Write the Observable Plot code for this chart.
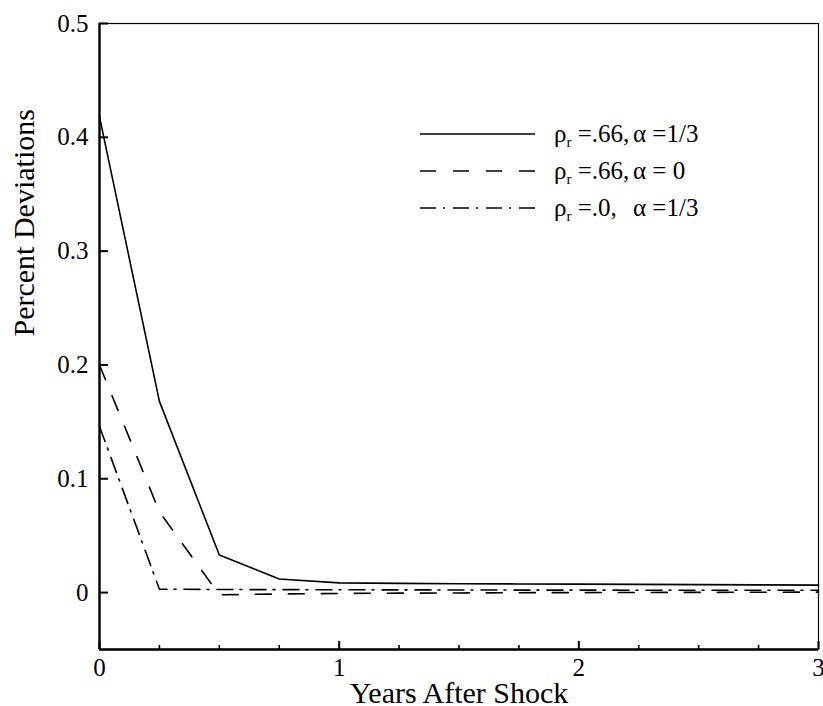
<!DOCTYPE html>
<html>
<head>
<meta charset="utf-8">
<script src="https://cdn.jsdelivr.net/npm/d3@7"></script>
<script src="https://cdn.jsdelivr.net/npm/@observablehq/plot@0.6"></script>
<style>
  body { margin: 0; background: #fff; }
  #wrap { position: relative; width: 823px; height: 706px; }
  #wrap svg text { font-family: "Liberation Serif", serif; }
  #legend { position: absolute; left: 420px; top: 115px; font-family: "Liberation Serif", serif; font-size: 25px; color: #000; }
  .row { display: flex; align-items: center; height: 37px; white-space: nowrap; }
  .row svg { display: block; margin-right: 19px; }
  .p1 { display: inline-block; width: 79px; }
  sub { font-size: 60%; vertical-align: -0.3em; line-height: 0; }
</style>
</head>
<body>
<div id="wrap"><div id="legend"></div></div>
<script>
// ---- data ----
const years = [0, 0.25, 0.5, 0.75, 1, 1.25, 1.5, 1.75, 2, 2.25, 2.5, 2.75, 3];
const solidSeries = [0.418, 0.168, 0.033, 0.012, 0.0085, 0.0081, 0.0078, 0.0076, 0.0074, 0.0072, 0.007, 0.0068, 0.0066];
const dashedSeries = [0.2, 0.071, -0.002, -0.0012, -0.0008, -0.0005, -0.0003, -0.0001, 0, 0.0001, 0.0002, 0.0003, 0.0004];
const dashdotSeries = [0.146, 0.003, 0.0027, 0.0026, 0.0025, 0.0024, 0.0023, 0.0022, 0.0022, 0.0021, 0.002, 0.002, 0.002];
const seriesNames = ["rho=.66, alpha=1/3", "rho=.66, alpha=0", "rho=0, alpha=1/3"];
const legendPart1 = ["ρ<sub>r</sub> =.66,", "ρ<sub>r</sub> =.66,", "ρ<sub>r</sub> =.0,"];
const legendPart2 = ["α =1/3", "α = 0", "α =1/3"];
const dashes = [null, "16,17", "16,7,2,8"];
const yTicks = [0, 0.1, 0.2, 0.3, 0.4, 0.5];
const yTickLabels = ["0", "0.1", "0.2", "0.3", "0.4", "0.5"];
const xTicks = [0, 1, 2, 3];
const xTickLabels = ["0", "1", "2", "3"];
const xMinorTicks = [0.25, 0.5, 0.75, 1.25, 1.5, 1.75, 2.25, 2.5, 2.75];
const xDomain = [0, 3];
const yDomain = [-0.05, 0.5];
const xTitle = "Years After Shock";
const yTitle = "Percent Deviations";

const W = 823, H = 706, mL = 99, mR = 5, mT = 23, mB = 57;
const frameW = W - mL - mR, frameH = H - mT - mB;
const font = "Liberation Serif";
// tick lengths (px) converted to data units along the perpendicular scale
const yTickLen = (xDomain[1] - xDomain[0]) * 9 / frameW;
const xMajorLen = (yDomain[1] - yDomain[0]) * 8 / frameH;
const xMinorLen = (yDomain[1] - yDomain[0]) * 4 / frameH;

const allSeries = [solidSeries, dashedSeries, dashdotSeries];
const rows = allSeries.flatMap((vals, k) => years.map((t, i) => ({series: seriesNames[k], t, v: vals[i]})));

const lineMarks = seriesNames.map((name, k) =>
  Plot.line(rows.filter(d => d.series === name), {
    x: "t", y: "v", stroke: "black", strokeWidth: 1.6,
    strokeDasharray: dashes[k] || undefined
  })
);

const chart = Plot.plot({
  width: W, height: H,
  marginLeft: mL, marginRight: mR, marginTop: mT, marginBottom: mB,
  style: {fontFamily: font, fontSize: "25px", color: "black", background: "white"},
  x: {domain: xDomain},
  y: {domain: yDomain},
  marks: [
    Plot.frame({stroke: "black", strokeWidth: 1.2}),
    Plot.ruleX([xDomain[0]], {stroke: "black", strokeWidth: 2.4}),
    Plot.ruleY([yDomain[0]], {stroke: "black", strokeWidth: 2.4}),
    // inward ticks
    Plot.ruleY(yTicks, {y: d => d, x1: xDomain[0], x2: xDomain[0] + yTickLen, stroke: "black", strokeWidth: 2}),
    Plot.ruleX(xTicks, {x: d => d, y1: yDomain[0], y2: yDomain[0] + xMajorLen, stroke: "black", strokeWidth: 2}),
    Plot.ruleX(xMinorTicks, {x: d => d, y1: yDomain[0], y2: yDomain[0] + xMinorLen, stroke: "black", strokeWidth: 1.6}),
    // tick labels
    Plot.axisY(yTicks, {tickSize: 0, tickPadding: 11, fontSize: 25, fontFamily: font, label: null,
      tickFormat: d => yTickLabels[yTicks.indexOf(d)]}),
    Plot.axisX(xTicks, {tickSize: 0, tickPadding: 9, fontSize: 25, fontFamily: font, label: null,
      tickFormat: d => xTickLabels[xTicks.indexOf(d)]}),
    ...lineMarks,
    Plot.text([xTitle], {text: d => d, frameAnchor: "bottom", lineAnchor: "bottom", dy: 53, fontSize: 30, fontFamily: font}),
    Plot.text([yTitle], {text: d => d, frameAnchor: "left", lineAnchor: "bottom", rotate: -90, dx: -66, fontSize: 30, fontFamily: font})
  ]
});
document.getElementById("wrap").prepend(chart);

// legend
const legend = document.getElementById("legend");
seriesNames.forEach((name, k) => {
  const row = document.createElement("div");
  row.className = "row";
  const dashAttr = dashes[k] ? ` stroke-dasharray="${dashes[k]}"` : "";
  row.innerHTML = `<svg width="115" height="6"><line x1="0" y1="3" x2="115" y2="3" stroke="black" stroke-width="1.6"${dashAttr}/></svg>` +
    `<span class="p1">${legendPart1[k]}</span><span>${legendPart2[k]}</span>`;
  legend.appendChild(row);
});
</script>
</body>
</html>
